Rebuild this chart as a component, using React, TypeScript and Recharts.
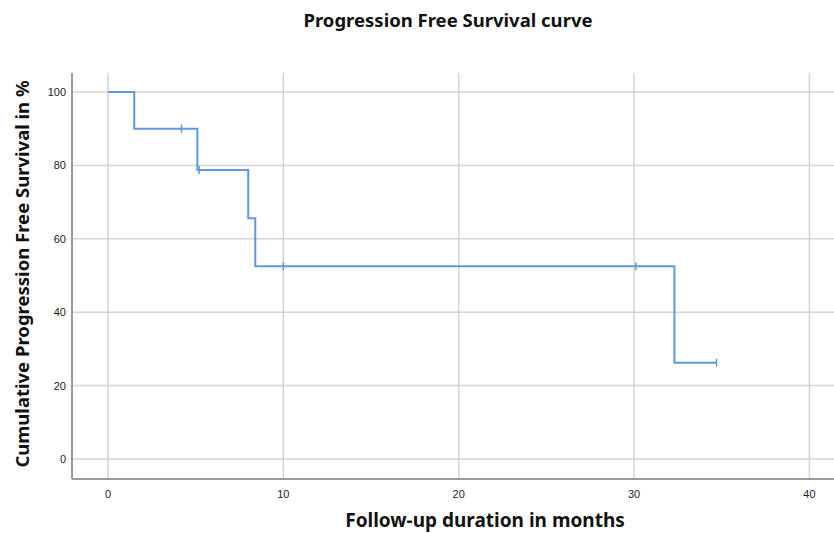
import React from "react";
import { ComposedChart, Line, Scatter, XAxis, YAxis, ReferenceLine } from "recharts";

const stepTimes = [0, 1.5, 5.1, 8.0, 8.4, 32.3, 34.7];
const stepSurvival = [100, 90, 78.75, 65.63, 52.5, 26.25, 26.25];
const censorTimes = [4.2, 5.2, 10, 30.1, 34.7];
const censorSurvival = [90, 78.75, 52.5, 52.5, 26.25];
const xTicks = [0, 10, 20, 30, 40];
const yTicks = [0, 20, 40, 60, 80, 100];

const stepData = stepTimes.map((t, i) => ({ t, s: stepSurvival[i] }));
const censorData = censorTimes.map((t, i) => ({ t, s: censorSurvival[i] }));

const BLUE = "#5f98de";
const GRID = "#d4d4d4";

const CensorMark = (props: any) => {
  const { cx, cy } = props;
  if (cx == null || cy == null) return null;
  return <line x1={cx} x2={cx} y1={cy - 4} y2={cy + 4} stroke={BLUE} strokeWidth={1.5} />;
};

const YLabel = (props: any) => {
  const vb = props.viewBox || {};
  const x = vb.x + 29;
  const y = vb.y + vb.height / 2 - 2;
  return (
    <text
      x={x}
      y={y}
      transform={`rotate(-90, ${x}, ${y})`}
      textAnchor="middle"
      fontFamily="'Noto Sans', 'Open Sans', sans-serif"
      fontWeight={700}
      fontSize={18.5}
      fill="#111"
    >
      Cumulative Progression Free Survival in %
    </text>
  );
};

export default function App() {
  return (
    <div style={{ position: "absolute", left: 0, top: 0, width: 834, height: 533, background: "#fff" }}>
      <svg style={{ position: "absolute", left: 0, top: 0, pointerEvents: "none" }} width={834} height={533}>
        <text
          x={448}
          y={27}
          textAnchor="middle"
          fontFamily="'Noto Sans', 'Open Sans', sans-serif"
          fontWeight={700}
          fontSize={18.5}
          fill="#111"
        >
          Progression Free Survival curve
        </text>
        <text
          x={485}
          y={527}
          textAnchor="middle"
          fontFamily="'Noto Sans', 'Open Sans', sans-serif"
          fontWeight={700}
          fontSize={19}
          fill="#111"
        >
          Follow-up duration in months
        </text>
      </svg>
      <ComposedChart
        width={834}
        height={533}
        margin={{ top: 73, right: 0, bottom: 0, left: 0 }}
        style={{ position: "absolute", left: 0, top: 0 }}
      >
        <XAxis
          dataKey="t"
          type="number"
          domain={[-2.05, 41.4]}
          ticks={xTicks}
          allowDataOverflow
          axisLine={{ stroke: "#9a9a9a", strokeWidth: 2 }}
          tickLine={false}
          tickSize={0}
          tickMargin={11}
          tick={{ fontFamily: "'Liberation Sans', Arial, sans-serif", fontSize: 11, fill: "#222" }}
          height={54}
        />
        <YAxis
          dataKey="s"
          type="number"
          domain={[-5.45, 105.2]}
          ticks={yTicks}
          allowDataOverflow
          width={72}
          axisLine={{ stroke: "#9a9a9a", strokeWidth: 2 }}
          tickLine={false}
          tickSize={0}
          tickMargin={6}
          tick={{ fontFamily: "'Liberation Sans', Arial, sans-serif", fontSize: 11, fill: "#222" }}
          label={<YLabel />}
        />
        {yTicks.map((t) => (
          <ReferenceLine key={"y" + t} y={t} stroke={GRID} strokeWidth={1.5} />
        ))}
        {xTicks.map((t) => (
          <ReferenceLine key={"x" + t} x={t} stroke={GRID} strokeWidth={1.5} />
        ))}
        <Line
          data={stepData}
          dataKey="s"
          type="stepAfter"
          stroke={BLUE}
          strokeWidth={2}
          dot={false}
          activeDot={false}
          isAnimationActive={false}
        />
        <Scatter data={censorData} dataKey="s" shape={<CensorMark />} isAnimationActive={false} />
      </ComposedChart>
    </div>
  );
}
